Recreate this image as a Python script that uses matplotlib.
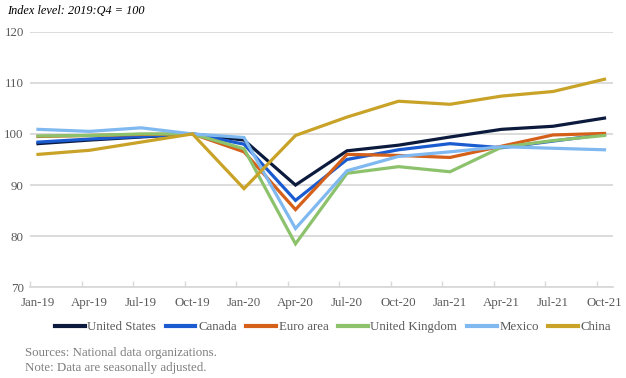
import matplotlib
matplotlib.use("Agg")
import matplotlib.pyplot as plt
import numpy as np

plt.rcParams['font.family'] = ['Liberation Serif', 'DejaVu Serif']

quarters = ["Jan-19", "Apr-19", "Jul-19", "Oct-19", "Jan-20", "Apr-20", "Jul-20",
            "Oct-20", "Jan-21", "Apr-21", "Jul-21", "Oct-21"]

united_states = [98.1, 98.8, 99.4, 100.0, 98.8, 90.0, 96.7, 97.8, 99.4, 100.9, 101.5, 103.1]
canada = [98.4, 99.0, 99.5, 100.0, 98.0, 87.0, 95.0, 96.9, 98.1, 97.3, 98.6, 99.9]
euro_area = [99.5, 99.7, 99.9, 100.0, 96.5, 85.2, 96.0, 95.8, 95.4, 97.6, 99.8, 100.1]
united_kingdom = [99.6, 99.7, 100.0, 100.0, 97.1, 78.5, 92.3, 93.6, 92.6, 97.4, 98.7, 99.7]
mexico = [100.9, 100.5, 101.2, 100.0, 99.3, 81.5, 92.8, 95.6, 96.5, 97.5, 97.2, 96.9]
china = [96.0, 96.8, 98.4, 100.0, 89.3, 99.7, 103.3, 106.4, 105.8, 107.4, 108.3, 110.7]

series = [
    ("United States", united_states, "#0c1b3d"),
    ("Canada", canada, "#1a5bd0"),
    ("Euro area", euro_area, "#d4601a"),
    ("United Kingdom", united_kingdom, "#8dc26d"),
    ("Mexico", mexico, "#80b8f0"),
    ("China", china, "#c9a228"),
]

fig = plt.figure(figsize=(6.26, 3.78), dpi=100)
ax = fig.add_axes([30/626, 1-287.3/378, (613-30)/626, (287.3-31.7)/378])

x = np.arange(len(quarters))
for name, vals, col in series:
    ax.plot(x, vals, color=col, lw=2.3, label=name, solid_joinstyle='miter')

ax.set_ylim(70, 120)
ax.set_xlim(-0.155, 11.165)
ax.set_yticks([70, 80, 90, 100, 110, 120])
ax.yaxis.grid(True, color="#d9d9d9", lw=1.3)
ax.set_axisbelow(True)
ax.tick_params(axis='y', length=0, labelsize=9.3, labelcolor="#595959", pad=4.5)
ax.set_xticks(x)
ax.set_xticklabels(quarters)
ax.tick_params(axis='x', which='major', length=0, labelsize=9.3, labelcolor="#595959", pad=7)
ax.set_xticks(x - 0.155, minor=True)
ax.tick_params(axis='x', which='minor', length=4, direction='in', color="#d9d9d9", width=1)
for s in ['top', 'right', 'left']:
    ax.spines[s].set_visible(False)
ax.spines['bottom'].set_color("#d9d9d9")
ax.spines['bottom'].set_linewidth(1.3)

fig.text(7/626, 1-11/378, "Index level: 2019:Q4 = 100", fontsize=8.8, style='italic',
         va='center', ha='left', color="#000000")

leg = fig.legend(loc='center', bbox_to_anchor=(0.532, 1-327/378), ncol=6, frameon=False,
                 fontsize=9.3, handlelength=2.3, handletextpad=0.2, columnspacing=0.75)
for t in leg.get_texts():
    t.set_color("#595959")
for h in leg.get_lines():
    h.set_linewidth(3)

fig.text(25/626, 1-353/378, "Sources: National data organizations.", fontsize=9.3,
         color="#7f7f7f", va='center', ha='left')
fig.text(25/626, 1-368.5/378, "Note: Data are seasonally adjusted.", fontsize=9.3,
         color="#7f7f7f", va='center', ha='left')

fig.savefig("out.png", dpi=100)
